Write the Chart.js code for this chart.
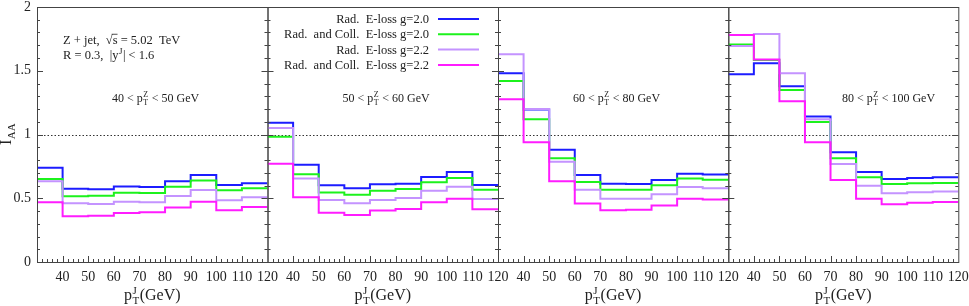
<!DOCTYPE html>
<html>
<head>
<meta charset="utf-8">
<script src="https://cdn.jsdelivr.net/npm/chart.js@4.4.1/dist/chart.umd.min.js"></script>
<style>
  body { margin: 0; background: #fff; }
  #panel { position: relative; width: 969px; height: 306px; }
  #panel canvas { position: absolute; left: 0; top: 0; }
</style>
</head>
<body>
<div id="panel">
  <canvas id="c0" width="969" height="306"></canvas>
  <canvas id="c1" width="969" height="306"></canvas>
  <canvas id="c2" width="969" height="306"></canvas>
  <canvas id="c3" width="969" height="306"></canvas>
</div>
<script>
// bin edges of pT^J (GeV), shared by the four panels
const binEdges = [30, 40, 50, 60, 70, 80, 90, 100, 110, 120];
const xTickValues = [40, 50, 60, 70, 80, 90, 100, 110, 120];
const yTickValues = [0, 0.5, 1, 1.5, 2];
const yTickLabels = ["0", "0.5", "1", "1.5", "2"];
const ptZRanges = [["40", "50"], ["50", "60"], ["60", "80"], ["80", "100"]];

const seriesNames = [
  "Rad.  E-loss g=2.0",
  "Rad.  and Coll.  E-loss g=2.0",
  "Rad.  E-loss g=2.2",
  "Rad.  and Coll.  E-loss g=2.2"
];
const seriesColors = ["#1c1cff", "#1cf21c", "#c493ff", "#ff1cff"];

// I_AA per bin, one row per pT^Z panel
const radG20 = [
  [0.74, 0.575, 0.57, 0.593, 0.588, 0.633, 0.682, 0.604, 0.617],
  [1.093, 0.763, 0.601, 0.578, 0.609, 0.614, 0.667, 0.706, 0.604],
  [1.48, 1.197, 0.881, 0.682, 0.614, 0.612, 0.643, 0.693, 0.687],
  [1.472, 1.558, 1.378, 1.142, 0.86, 0.706, 0.651, 0.659, 0.664]
];
const radCollG20 = [
  [0.651, 0.515, 0.52, 0.544, 0.541, 0.591, 0.64, 0.562, 0.578],
  [0.983, 0.688, 0.546, 0.528, 0.559, 0.573, 0.625, 0.659, 0.567],
  [1.42, 1.119, 0.813, 0.627, 0.567, 0.567, 0.601, 0.654, 0.646],
  [1.705, 1.585, 1.349, 1.098, 0.813, 0.664, 0.612, 0.618, 0.62]
];
const radG22 = [
  [0.633, 0.46, 0.455, 0.473, 0.468, 0.518, 0.565, 0.484, 0.507],
  [1.051, 0.654, 0.486, 0.46, 0.486, 0.502, 0.559, 0.591, 0.494],
  [1.629, 1.2, 0.787, 0.567, 0.497, 0.497, 0.531, 0.588, 0.578],
  [1.694, 1.788, 1.48, 1.119, 0.769, 0.599, 0.539, 0.547, 0.552]
];
const radCollG22 = [
  [0.468, 0.358, 0.363, 0.384, 0.39, 0.428, 0.473, 0.405, 0.431],
  [0.771, 0.507, 0.387, 0.369, 0.403, 0.416, 0.468, 0.497, 0.413],
  [1.276, 0.939, 0.633, 0.458, 0.405, 0.41, 0.444, 0.497, 0.491],
  [1.78, 1.589, 1.26, 0.939, 0.643, 0.497, 0.452, 0.465, 0.47]
];
const allSeries = [radG20, radCollG20, radG22, radCollG22];

const panelEdges = [37, 267.5, 498, 728.3, 958.3];
const FONT = '"Liberation Serif", "Times New Roman", serif';
const TXT = "#222";

// texto con super/subindices
function drawRich(ctx, parts, x, y, size, align) {
  const big = size + "px " + FONT;
  const small = Math.round(size * 0.7) + "px " + FONT;
  const widths = parts.map((p) => {
    if (typeof p === "string") { ctx.font = big; return ctx.measureText(p).width; }
    if (p.over) { ctx.font = big; return ctx.measureText(p.over).width; }
    ctx.font = small;
    return Math.max(ctx.measureText(p.sup || "").width, ctx.measureText(p.sub || "").width) + 1;
  });
  const total = widths.reduce((a, b) => a + b, 0);
  let cx = align === "right" ? x - total : (align === "center" ? x - total / 2 : x);
  ctx.textAlign = "left";
  ctx.textBaseline = "alphabetic";
  ctx.fillStyle = TXT;
  parts.forEach((p, i) => {
    if (typeof p === "string") {
      ctx.font = big; ctx.fillText(p, cx, y);
    } else if (p.over) {
      ctx.font = big; ctx.fillText(p.over, cx, y);
      ctx.strokeStyle = TXT; ctx.lineWidth = 0.8;
      ctx.beginPath(); ctx.moveTo(cx - 1, y - size * 0.78); ctx.lineTo(cx + widths[i], y - size * 0.78); ctx.stroke();
    } else {
      ctx.font = small;
      if (p.sup) ctx.fillText(p.sup, cx + 0.5, y - size * 0.4);
      if (p.sub) ctx.fillText(p.sub, cx + 0.5, y + size * 0.28);
    }
    cx += widths[i];
  });
}

const framePlugin = {
  id: "frame",
  beforeDatasetsDraw(chart) {
    const { ctx, chartArea: a } = chart;
    const py = Math.round(chart.scales.y.getPixelForValue(1)) + 0.5;
    ctx.save();
    ctx.strokeStyle = "#333";
    ctx.lineWidth = 1;
    ctx.setLineDash([1.5, 2]);
    ctx.beginPath(); ctx.moveTo(a.left, py); ctx.lineTo(a.right, py); ctx.stroke();
    ctx.restore();
  },
  afterDatasetsDraw(chart) {
    const { ctx, chartArea: a, scales: { x, y } } = chart;
    ctx.save();
    ctx.strokeStyle = "#444";
    ctx.lineWidth = 1;
    ctx.strokeRect(a.left + 0.5, a.top + 0.5, a.right - a.left, a.bottom - a.top);
    ctx.beginPath();
    for (let i = 1; i < 20; i++) {
      const py = Math.round(y.getPixelForValue(i / 10)) + 0.5;
      const len = i % 5 === 0 ? 6 : 3;
      ctx.moveTo(a.left, py); ctx.lineTo(a.left + len, py);
      ctx.moveTo(a.right, py); ctx.lineTo(a.right - len, py);
    }
    for (let v = 32; v < 120; v += 2) {
      const px = Math.round(x.getPixelForValue(v)) + 0.5;
      const len = v % 10 === 0 ? 6 : 3;
      ctx.moveTo(px, a.bottom); ctx.lineTo(px, a.bottom - len);
    }
    ctx.stroke();
    ctx.restore();
  }
};

function textPlugin(k) {
  return {
    id: "texts" + k,
    afterDraw(chart) {
      const { ctx, chartArea: a, scales: { x } } = chart;
      ctx.save();
      const range = ptZRanges[k];
      const lx = x.getPixelForValue(k === 3 ? 74.5 : 59.3);
      drawRich(ctx, [range[0] + " < p", { sup: "Z", sub: "T" }, " < " + range[1] + " GeV"], lx, 102, 12, "left");
      drawRich(ctx, ["p", { sup: "J", sub: "T" }, "(GeV)"], (a.left + a.right) / 2, 300, 16, "center");
      if (k === 0) {
        drawRich(ctx, ["Z + jet,  ", "√", { over: "s" }, " = 5.02  TeV"], 63, 44, 12.5, "left");
        drawRich(ctx, ["R = 0.3,  |y", { sup: "J" }, "| < 1.6"], 63, 59, 12.5, "left");
        ctx.translate(11, 134);
        ctx.rotate(-Math.PI / 2);
        drawRich(ctx, ["I", { sub: "AA" }], 0, 0, 16, "center");
        ctx.setTransform(1, 0, 0, 1, 0, 0);
      }
      if (k === 1) {
        chart.data.datasets.forEach((ds, j) => {
          const ly = 19 + j * 15.3;
          drawRich(ctx, [ds.label], a.right - 69, ly + 4, 12.5, "right");
          ctx.strokeStyle = ds.borderColor;
          ctx.lineWidth = 2;
          ctx.beginPath(); ctx.moveTo(a.right - 60, ly); ctx.lineTo(a.right - 19, ly); ctx.stroke();
        });
      }
      ctx.restore();
    }
  };
}

function makePanel(k) {
  const left = panelEdges[k];
  const right = panelEdges[k + 1];
  const isFirst = k === 0;
  const datasets = allSeries.map((s, j) => ({
    label: seriesNames[j],
    data: binEdges.map((e, i) => ({ x: e, y: s[k][Math.min(i, s[k].length - 1)] })),
    borderColor: seriesColors[j],
    borderWidth: 2,
    pointRadius: 0,
    stepped: "before",
    fill: false,
    order: 3 - j
  }));

  new Chart(document.getElementById("c" + k), {
    type: "line",
    data: { datasets },
    options: {
      responsive: false,
      animation: false,
      devicePixelRatio: 1,
      layout: { autoPadding: false, padding: { left: isFirst ? 0 : left, right: 969 - right, top: 7, bottom: 0 } },
      plugins: { legend: { display: false }, tooltip: { enabled: false } },
      scales: {
        x: {
          type: "linear", min: 30, max: 120,
          grid: { display: false, drawTicks: false },
          border: { display: false },
          ticks: { font: { family: FONT, size: 14 }, color: TXT, padding: 7, autoSkip: false, maxRotation: 0 },
          afterBuildTicks: (sc) => { sc.ticks = xTickValues.map((v) => ({ value: v })); },
          afterFit: (sc) => { sc.height = 44; sc.paddingLeft = 0; sc.paddingRight = 0; }
        },
        y: {
          type: "linear", min: 0, max: 2, display: isFirst,
          grid: { display: false, drawTicks: false },
          border: { display: false },
          ticks: {
            font: { family: FONT, size: 14 }, color: TXT, padding: 6,
            callback: (v) => yTickLabels[yTickValues.indexOf(v)]
          },
          afterBuildTicks: (sc) => { sc.ticks = yTickValues.map((v) => ({ value: v })); },
          afterFit: (sc) => { if (isFirst) { sc.width = left; } sc.paddingTop = 0; sc.paddingBottom = 0; }
        }
      }
    },
    plugins: [framePlugin, textPlugin(k)]
  });
}

[0, 1, 2, 3].forEach(makePanel);
</script>
</body>
</html>
